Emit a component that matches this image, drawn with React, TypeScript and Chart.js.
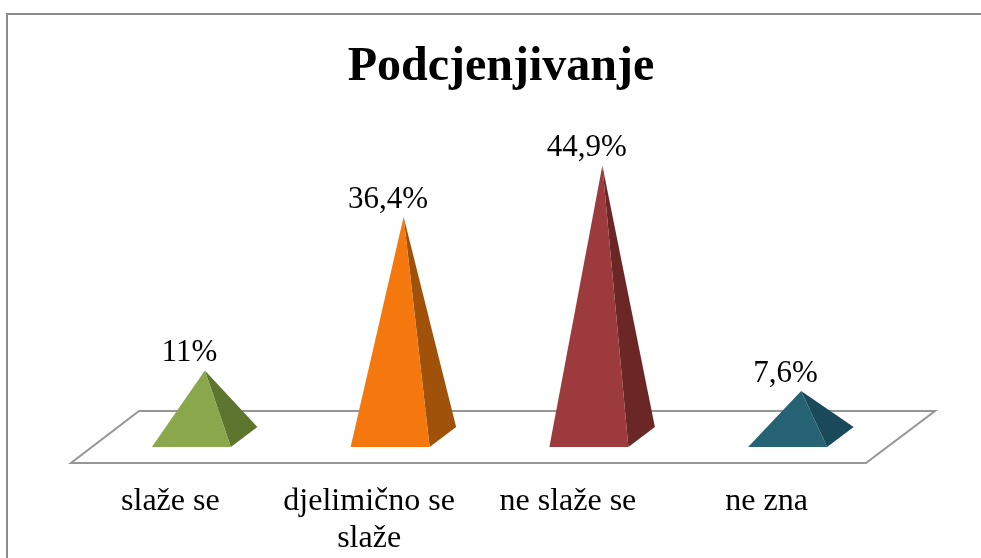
import React, { useEffect, useRef } from "react";
import { Chart, registerables } from "chart.js";

Chart.register(...registerables);

const titleText = "Podcjenjivanje";
const categories = [["slaže se"], ["djelimično se", "slaže"], ["ne slaže se"], ["ne zna"]];
const values = [11, 36.4, 44.9, 7.6];
const valueLabels = ["11%", "36,4%", "44,9%", "7,6%"];
const faceColors = ["#8AA84B", "#F5780F", "#9C3A3D", "#256274"];
const sideColors = ["#5E752F", "#A0520A", "#6A2726", "#1A4A59"];

const SERIF = '"Liberation Serif", "Times New Roman", serif';

const pyramidPlugin = {
  id: "pyramids",
  afterLayout(chart: any) {
    // the title is centred on the whole picture, not on the plot area
    const block = chart.titleBlock;
    if (block) {
      block.left += 32.5;
      block.right += 32.5;
    }
  },
  beforeDatasetsDraw(chart: any) {
    const { ctx, chartArea } = chart;
    const { left, right, bottom } = chartArea;
    ctx.save();
    ctx.strokeStyle = "#8C8C8C";
    ctx.lineWidth = 2;
    ctx.beginPath();
    ctx.moveTo(7, chart.height);
    ctx.lineTo(7, 14);
    ctx.lineTo(chart.width, 14);
    ctx.stroke();
    ctx.strokeStyle = "#969696";
    ctx.lineWidth = 2;
    ctx.beginPath();
    ctx.moveTo(left, bottom + 26);
    ctx.lineTo(right, bottom + 26);
    ctx.lineTo(right + 69, bottom - 26);
    ctx.lineTo(left + 68, bottom - 26);
    ctx.closePath();
    ctx.stroke();
    ctx.restore();
  },
  afterDatasetsDraw(chart: any) {
    const { ctx } = chart;
    const meta = chart.getDatasetMeta(0);
    meta.data.forEach((bar: any, i: number) => {
      const x = bar.x;
      const base = bar.base;
      const apexX = x + 34.5;
      const apexY = bar.y;
      const fl = x - 18.5;
      const fr = x + 60.5;
      ctx.save();
      ctx.fillStyle = sideColors[i];
      ctx.beginPath();
      ctx.moveTo(fr, base + 10);
      ctx.lineTo(x + 87, base - 10);
      ctx.lineTo(apexX, apexY);
      ctx.closePath();
      ctx.fill();
      ctx.fillStyle = faceColors[i];
      ctx.beginPath();
      ctx.moveTo(fl, base + 10);
      ctx.lineTo(fr, base + 10);
      ctx.lineTo(apexX, apexY);
      ctx.closePath();
      ctx.fill();
      ctx.fillStyle = "#000";
      ctx.font = `31px ${SERIF}`;
      ctx.textAlign = "center";
      ctx.textBaseline = "alphabetic";
      ctx.fillText(valueLabels[i], x + 19, apexY - 9);
      ctx.restore();
    });
  },
};

export default function App() {
  const ref = useRef<HTMLCanvasElement>(null);
  useEffect(() => {
    document.body.style.margin = "0";
    const chart = new Chart(ref.current!, {
      type: "bar",
      data: {
        labels: categories,
        datasets: [
          {
            data: values,
            backgroundColor: "rgba(0,0,0,0)",
            borderWidth: 0,
          },
        ],
      },
      plugins: [pyramidPlugin],
      options: {
        responsive: false,
        animation: false,
        layout: { padding: { left: 71, right: 115, top: 0, bottom: 0 } },
        plugins: {
          legend: { display: false },
          tooltip: { enabled: false },
          title: {
            display: true,
            text: titleText,
            color: "#000",
            font: { family: SERIF, size: 48, weight: "bold", lineHeight: 1.2 },
            padding: { top: 39, bottom: 38 },
          },
        },
        scales: {
          x: {
            grid: { display: false, drawTicks: false },
            border: { display: false },
            ticks: {
              color: "#000",
              font: { family: SERIF, size: 32, lineHeight: 1.15 },
              padding: 46.5,
              maxRotation: 0,
              autoSkip: false,
            },
            afterFit(scale: any) {
              scale.height = 121;
            },
          },
          y: { display: false, min: 0, max: 50 },
        },
      },
    } as any);
    return () => chart.destroy();
  }, []);
  return <canvas ref={ref} width={981} height={558} style={{ display: "block" }} />;
}
